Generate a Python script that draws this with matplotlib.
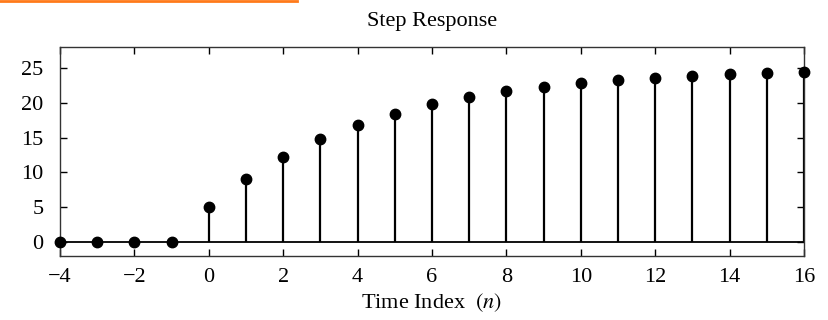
import matplotlib
matplotlib.use("Agg")
import matplotlib.pyplot as plt
from matplotlib.lines import Line2D

n = [-4, -3, -2, -1, 0, 1, 2, 3, 4, 5, 6, 7, 8, 9, 10, 11, 12, 13, 14, 15, 16]
y = [0, 0, 0, 0, 5, 9, 12.2, 14.76, 16.8, 18.44, 19.75, 20.8, 21.64, 22.3, 22.85, 23.28, 23.62, 23.9, 24.12, 24.3, 24.42]
xticks = [-4, -2, 0, 2, 4, 6, 8, 10, 12, 14, 16]
yticks = [0, 5, 10, 15, 20, 25]

plt.rcParams['font.family'] = ['Liberation Serif', 'DejaVu Serif']
plt.rcParams['mathtext.fontset'] = 'stix'

fig = plt.figure(figsize=(8.29, 3.2), dpi=100)
ax = fig.add_axes([60/829, 1-256/320, (804-60)/829, (256-47)/320])

ax.axhline(0, color='black', lw=1.3, zorder=2)
ax.vlines(n, 0, y, color='black', lw=1.6, zorder=2)
ax.plot(n, y, 'o', color='black', ms=7.5, clip_on=False, zorder=3)

ax.set_xlim(-4, 16)
ax.set_ylim(-2, 28)
ax.set_xticks(xticks)
ax.set_yticks(yticks)
ax.set_xticklabels(['\u22124' if t == -4 else ('\u22122' if t == -2 else str(t)) for t in xticks])
ax.tick_params(direction='in', top=True, right=True, length=5, width=1, labelsize=16)
ax.tick_params(axis='x', pad=9)
ax.tick_params(axis='y', pad=12)
for s in ax.spines.values():
    s.set_linewidth(1)
    s.set_color('#333333')

ax.set_title('Step Response', fontsize=16, pad=15)
ax.set_xlabel('Time Index  $(n)$', fontsize=16, labelpad=3)

fig.add_artist(Line2D([0, 297/829], [1-1/320, 1-1/320], color='#ff7a1a', lw=2, transform=fig.transFigure))

fig.savefig('out.png', dpi=100)
